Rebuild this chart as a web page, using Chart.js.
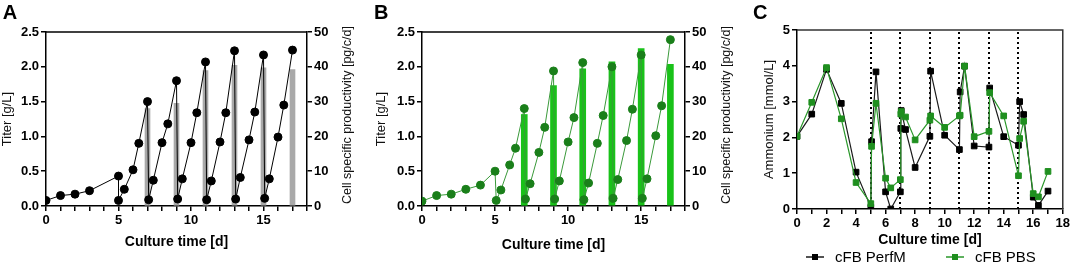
<!DOCTYPE html>
<html>
<head>
<meta charset="utf-8">
<script src="https://cdn.jsdelivr.net/npm/chart.js@4.4.1/dist/chart.umd.min.js"></script>
<style>
  html, body { margin: 0; padding: 0; background: #fff; }
  body { width: 1072px; height: 274px; position: relative; overflow: hidden; }
  .panel { position: absolute; top: 0; height: 274px; }
</style>
</head>
<body>
<div class="panel" style="left:0;width:360px"><canvas id="chartA"></canvas></div>
<div class="panel" style="left:360px;width:380px"><canvas id="chartB"></canvas></div>
<div class="panel" style="left:720px;width:352px"><canvas id="chartC"></canvas></div>
<script>
// Panel A - cFB PerfM: titer [g/L] and cell specific productivity [pg/c/d]
const titerDaysA = [0, 1, 2, 3, 5, 5, 5.4, 6, 6.4, 7, 7.08, 7.4, 8, 8.4, 9, 9.08, 9.4, 10, 10.4,
  11, 11.08, 11.4, 12, 12.4, 13, 13.08, 13.4, 14, 14.4, 15, 15.08, 15.4, 16, 16.4, 17];
const titerA = [0.08, 0.15, 0.17, 0.22, 0.43, 0.08, 0.24, 0.52, 0.90, 1.50, 0.09, 0.37, 0.91, 1.18,
  1.80, 0.10, 0.39, 0.91, 1.34, 2.07, 0.09, 0.36, 0.92, 1.34, 2.23, 0.10, 0.41, 0.95, 1.35,
  2.17, 0.11, 0.39, 0.99, 1.45, 2.24];

// Panel B - cFB PBS
const titerDaysB = [0, 1, 2, 3, 4, 5, 5.08, 5.4, 6, 6.4, 7, 7.08, 7.4, 8, 8.4, 9, 9.08, 9.4, 10, 10.4,
  11, 11.08, 11.4, 12, 12.4, 13, 13.08, 13.4, 14, 14.4, 15, 15.08, 15.4, 16, 16.4, 17];
const titerB = [0.07, 0.15, 0.17, 0.24, 0.30, 0.50, 0.08, 0.23, 0.59, 0.83, 1.40, 0.10, 0.32, 0.77,
  1.13, 1.94, 0.10, 0.36, 0.92, 1.27, 2.06, 0.09, 0.33, 0.90, 1.30, 2.00, 0.11, 0.38, 0.94,
  1.39, 2.17, 0.11, 0.39, 1.01, 1.44, 2.39];

// productivity bars (both panels)
const qpDays = [7, 9, 11, 13, 15, 17];
const qpA = [28.0, 29.5, 38.9, 40.4, 39.7, 39.2];
const qpB = [26.3, 34.6, 39.4, 41.4, 45.2, 40.7];

// Panel C - ammonium [mmol/L]
const ammDays = [0, 1, 2, 3, 4, 5, 5.05, 5.35, 6, 6.35, 7, 7.03, 7.06, 7.35, 8, 9, 9.05, 10,
  11, 11.05, 11.35, 12, 13, 13.05, 14, 15, 15.08, 15.35, 16, 16.35, 17];
const ammPerfM = [2.03, 2.65, 3.90, 2.95, 1.03, 0.05, 1.88, 3.83, 0.48, 0.00, 0.48, 2.25, 2.75, 2.22,
  1.16, 2.03, 3.85, 2.06, 1.66, 3.27, 3.99, 1.76, 1.73, 3.38, 2.02, 1.78, 3.00, 2.64, 0.33,
  0.10, 0.50];
const ammPBS = [2.03, 2.98, 3.95, 2.52, 0.74, 0.15, 1.75, 2.95, 0.86, 0.59, 0.82, 2.65, 2.72, 2.57,
  1.93, 2.48, 2.60, 2.28, 2.60, 2.62, 3.99, 2.02, 2.17, 3.25, 2.60, 0.93, 1.97, 2.45, 0.43,
  0.34, 1.05];
const harvestDays = [5, 7, 9, 11, 13, 15];

const FONT = '"Liberation Sans", Arial, sans-serif';
const toXY = (xs, ys) => xs.map((x, i) => ({x: x, y: ys[i]}));

// letter, frame, rotated right-axis title, dotted harvest lines, legend
const panelDecor = {
  id: 'panelDecor',
  beforeDatasetsDraw(chart, args, opts) {
    const {ctx, chartArea} = chart;
    if (opts.vlines) {
      ctx.save();
      ctx.strokeStyle = '#000';
      ctx.lineWidth = 2;
      ctx.setLineDash([2, 3]);
      opts.vlines.forEach(d => {
        const x = Math.round(chart.scales.x.getPixelForValue(d));
        ctx.beginPath();
        ctx.moveTo(x, chartArea.bottom);
        ctx.lineTo(x, chartArea.top);
        ctx.stroke();
      });
      ctx.restore();
    }
  },
  afterDraw(chart, args, opts) {
    const {ctx, chartArea} = chart;
    ctx.save();
    ctx.fillStyle = '#000';
    ctx.font = 'bold 20px ' + FONT;
    ctx.textBaseline = 'alphabetic';
    ctx.fillText(opts.letter, opts.letterX, 18.5);

    ctx.strokeStyle = opts.frameColor || '#000';
    ctx.lineWidth = 1.5;
    ctx.beginPath();
    ctx.moveTo(chartArea.left, chartArea.top);
    ctx.lineTo(chartArea.right, chartArea.top);
    if (opts.frameRight) ctx.lineTo(chartArea.right, chartArea.bottom);
    ctx.stroke();

    if (opts.rightTitle) {
      ctx.font = '12.5px ' + FONT;
      ctx.fillStyle = '#111';
      ctx.textAlign = 'center';
      ctx.textBaseline = 'middle';
      ctx.translate(opts.rightTitleX, (chartArea.top + chartArea.bottom) / 2 - 4);
      ctx.rotate(-Math.PI / 2);
      ctx.fillText(opts.rightTitle, 0, 0);
      ctx.setTransform(1, 0, 0, 1, 0, 0);
    }

    if (opts.legend) {
      ctx.font = '15px ' + FONT;
      ctx.textAlign = 'left';
      ctx.textBaseline = 'middle';
      const y = opts.legend.y;
      opts.legend.items.forEach(it => {
        const ds = chart.data.datasets[it.index];
        const x0 = it.x;
        ctx.strokeStyle = ds.borderColor;
        ctx.lineWidth = 1.5;
        ctx.beginPath();
        ctx.moveTo(x0, y);
        ctx.lineTo(x0 + 18, y);
        ctx.stroke();
        ctx.fillStyle = ds.pointBackgroundColor;
        ctx.fillRect(x0 + 9 - 3, y - 3, 6, 6);
        ctx.fillStyle = '#000';
        ctx.fillText(ds.label, x0 + 29, y + 1);
      });
    }
    ctx.restore();
  }
};

function yAxis(opts) {
  return {
    type: 'linear',
    position: opts.position,
    min: 0,
    max: opts.max,
    afterFit(scale) { scale.width = opts.width; },
    grid: {drawOnChartArea: false, color: '#000', lineWidth: 1.5, tickLength: 5},
    border: {color: '#000', width: 1.5},
    ticks: {
      stepSize: opts.step,
      color: '#000',
      padding: 2,
      font: {family: FONT, size: 13, weight: 'bold'},
      callback: opts.format
    },
    title: {
      display: !!opts.title,
      text: opts.title,
      color: '#111',
      font: {family: FONT, size: 13},
      padding: {top: opts.titlePad || 0, bottom: 0}
    }
  };
}

function xAxis(opts) {
  return {
    type: 'linear',
    min: 0,
    max: 18,
    offset: false,
    afterFit(scale) { scale.height = opts.height; },
    grid: {drawOnChartArea: false, offset: false, color: '#000', lineWidth: 1.5, tickLength: 5},
    border: {color: '#000', width: 1.5},
    ticks: {
      stepSize: 1,
      autoSkip: false,
      maxRotation: 0,
      color: '#000',
      padding: 2,
      font: {family: FONT, size: 13, weight: 'bold'},
      callback: v => (v % opts.every === 0 ? v : '')
    },
    title: {
      display: true,
      text: 'Culture time [d]',
      color: '#000',
      font: {family: FONT, size: 14, weight: 'bold'},
      padding: {top: 0, bottom: opts.titlePad}
    }
  };
}

function titerChart(id, cfg) {
  return new Chart(document.getElementById(id), {
    type: 'line',
    data: {
      datasets: [
        {
          label: 'Titer',
          data: toXY(cfg.days, cfg.titer),
          yAxisID: 'y',
          borderColor: cfg.lineColor,
          borderWidth: 1,
          pointRadius: 4,
          pointBackgroundColor: cfg.pointColor,
          pointBorderColor: cfg.pointColor,
          pointBorderWidth: 1,
          tension: 0
        },
        {
          type: 'bar',
          label: 'qP',
          data: toXY(qpDays, cfg.qp),
          yAxisID: 'y2',
          backgroundColor: cfg.barColor,
          barThickness: cfg.barWidth
        }
      ]
    },
    options: {
      responsive: true,
      maintainAspectRatio: false,
      animation: false,
      layout: {padding: {top: 32, left: 0, right: 0, bottom: 0}},
      plugins: {
        legend: {display: false},
        tooltip: {enabled: false},
        panelDecor: {
          letter: cfg.letter,
          letterX: cfg.letterX,
          rightTitle: 'Cell specific productivity [pg/c/d]',
          rightTitleX: cfg.rightTitleX
        }
      },
      scales: {
        x: xAxis({height: 68, every: 5, titlePad: cfg.xTitlePad}),
        y: yAxis({position: 'left', max: 2.5, step: 0.5, width: cfg.leftWidth,
          title: 'Titer [g/L]', titlePad: cfg.yTitlePad, format: v => v.toFixed(1)}),
        y2: yAxis({position: 'right', max: 50, step: 10, width: cfg.rightWidth,
          format: v => v})
      }
    },
    plugins: [panelDecor]
  });
}

titerChart('chartA', {
  letter: 'A', letterX: 2.7, days: titerDaysA, titer: titerA, qp: qpA,
  lineColor: '#000', pointColor: '#000', barColor: '#a9a9a9', barWidth: 5,
  leftWidth: 46, rightWidth: 53, yTitlePad: 0, xTitlePad: 23, rightTitleX: 347.5
});

titerChart('chartB', {
  letter: 'B', letterX: 14, days: titerDaysB, titer: titerB, qp: qpB,
  lineColor: '#3a9a3a', pointColor: '#1a7f1a', barColor: '#19c219', barWidth: 6,
  leftWidth: 62, rightWidth: 55, yTitlePad: 14, xTitlePad: 20.5, rightTitleX: 367
});

new Chart(document.getElementById('chartC'), {
  type: 'line',
  data: {
    datasets: [
      {
        label: 'cFB PerfM',
        data: toXY(ammDays, ammPerfM),
        borderColor: '#1a1a1a',
        borderWidth: 1.2,
        pointStyle: 'rect',
        pointRadius: 4,
        pointBackgroundColor: '#000',
        pointBorderColor: '#000',
        pointBorderWidth: 1,
        order: 1,
        tension: 0
      },
      {
        label: 'cFB PBS',
        data: toXY(ammDays, ammPBS),
        borderColor: '#2a972a',
        borderWidth: 1.2,
        pointStyle: 'rect',
        pointRadius: 4,
        pointBackgroundColor: '#1f8f1f',
        pointBorderColor: '#1f8f1f',
        pointBorderWidth: 1,
        order: 0,
        tension: 0
      }
    ]
  },
  options: {
    responsive: true,
    maintainAspectRatio: false,
    animation: false,
    layout: {padding: {top: 30, left: 0, right: 7.5, bottom: 0}},
    plugins: {
      legend: {display: false},
      tooltip: {enabled: false},
      panelDecor: {
        letter: 'C',
        letterX: 33,
        frameRight: true,
        frameColor: '#333',
        vlines: harvestDays,
        legend: {y: 257, items: [{index: 0, x: 86}, {index: 1, x: 226}]}
      }
    },
    scales: {
      x: xAxis({height: 65, every: 2, titlePad: 25.6}),
      y: yAxis({position: 'left', max: 5, step: 1, width: 77,
        title: 'Ammonium [mmol/L]', titlePad: 42, format: v => v})
    }
  },
  plugins: [panelDecor]
});
</script>
</body>
</html>
